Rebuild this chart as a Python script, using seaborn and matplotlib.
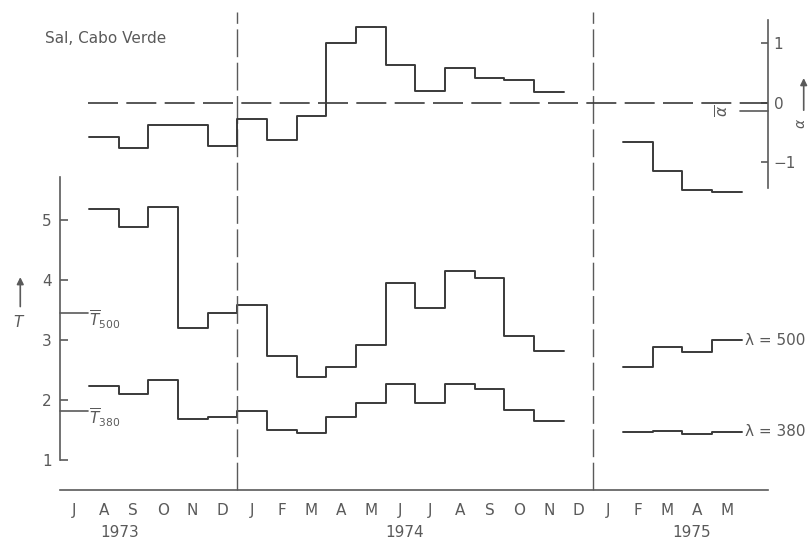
import matplotlib
matplotlib.use("Agg")
import matplotlib.pyplot as plt
import seaborn as sns

# month index: Jul 1973 = 0
months_7374 = list(range(1, 17))        # Aug 1973 .. Nov 1974
months_75 = [19, 20, 21, 22]            # Feb .. May 1975
month_labels = ["J", "A", "S", "O", "N", "D", "J", "F", "M", "A", "M", "J",
                "J", "A", "S", "O", "N", "D", "J", "F", "M", "A", "M"]
years = ["1973", "1974", "1975"]
year_pos = [1.55, 11.15, 20.8]

alpha_7374 = [-0.57, -0.76, -0.37, -0.37, -0.72, -0.27, -0.62, -0.22,
              1.01, 1.28, 0.64, 0.20, 0.59, 0.42, 0.39, 0.18]
alpha_75 = [-0.66, -1.14, -1.46, -1.50]
t500_7374 = [5.18, 4.88, 5.22, 3.20, 3.45, 3.58, 2.73, 2.38,
             2.55, 2.92, 3.95, 3.53, 4.15, 4.03, 3.07, 2.82]
t500_75 = [2.55, 2.88, 2.80, 3.00]
t380_7374 = [2.23, 2.10, 2.33, 1.68, 1.72, 1.82, 1.50, 1.45,
             1.72, 1.95, 2.27, 1.95, 2.27, 2.18, 1.83, 1.65]
t380_75 = [1.47, 1.48, 1.43, 1.47]
t500_mean = 3.45
t380_mean = 1.82
alpha_mean = -0.13

ink = "#3a3a3a"
grey = "#5a5a5a"


def steps(months, vals):
    xs = [m - 0.5 for m in months] + [months[-1] + 0.5]
    ys = list(vals) + [vals[-1]]
    return xs, ys


sns.set_theme(style="white")
plt.rcParams["font.family"] = ["DejaVu Sans"]

fig = plt.figure(figsize=(8.11, 5.38), dpi=100)
ax_t = fig.add_axes([0, 0, 1, 1])
ax_a = fig.add_axes([0, 0, 1, 1])
for ax in (ax_t, ax_a):
    ax.set_xlim(-2.494, 24.84)
    ax.patch.set_visible(False)
ax_t.set_ylim(-0.3, 8.667)
ax_a.set_ylim(-7.311, 1.731)

# step curves
for months, vals, ax in [(months_7374, alpha_7374, ax_a), (months_75, alpha_75, ax_a),
                         (months_7374, t500_7374, ax_t), (months_75, t500_75, ax_t),
                         (months_7374, t380_7374, ax_t), (months_75, t380_75, ax_t)]:
    xs, ys = steps(months, vals)
    sns.lineplot(x=xs, y=ys, ax=ax, drawstyle="steps-post", color=ink,
                 lw=1.4, estimator=None, sort=False)

# T axis (left)
for s in ["top", "right"]:
    ax_t.spines[s].set_visible(False)
ax_t.spines["left"].set_position(("data", -0.47))
ax_t.spines["left"].set_bounds(1, 5.72)
ax_t.spines["bottom"].set_position(("data", 0.5))
ax_t.spines["bottom"].set_bounds(-0.47, 23.4)
for s in ["left", "bottom"]:
    ax_t.spines[s].set_color(grey)
    ax_t.spines[s].set_linewidth(1.2)
ax_t.set_yticks([1, 2, 3, 4, 5])
ax_t.tick_params(axis="y", direction="in", length=6, width=1.2, color=grey,
                 labelsize=11, labelcolor=grey, pad=6, left=True)
ax_t.set_xticks(range(len(month_labels)))
ax_t.set_xticklabels(month_labels)
ax_t.tick_params(axis="x", length=0, labelsize=11, labelcolor=grey, pad=9)
ax_t.grid(False)

for yr, xp in zip(years, year_pos):
    ax_t.text(xp, -0.2, yr, ha="center", va="center", fontsize=11, color=grey)

ax_t.plot([-0.47, 0.47], [t500_mean, t500_mean], color=grey, lw=1.2)
ax_t.plot([-0.47, 0.47], [t380_mean, t380_mean], color=grey, lw=1.2)
ax_t.text(0.52, t500_mean - 0.12, r"$\overline{T}_{500}$", ha="left", va="center",
          fontsize=11, color=grey)
ax_t.text(0.52, t380_mean - 0.12, r"$\overline{T}_{380}$", ha="left", va="center",
          fontsize=11, color=grey)
ax_t.text(22.62, t500_75[-1], "λ = 500", ha="left", va="center",
          fontsize=11, color=grey)
ax_t.text(22.62, t380_75[-1], "λ = 380", ha="left", va="center",
          fontsize=11, color=grey)

# vertical year dividers
for xv in [5.5, 17.5]:
    ax_t.axvline(xv, ymin=0.089, ymax=0.978, color=grey, lw=1.0,
                 linestyle=(0, (20, 4)))

# alpha axis (right)
for s in ["top", "left", "bottom"]:
    ax_a.spines[s].set_visible(False)
ax_a.spines["right"].set_position(("data", 23.39))
ax_a.spines["right"].set_bounds(-1.43, 1.39)
ax_a.spines["right"].set_color(grey)
ax_a.spines["right"].set_linewidth(1.2)
ax_a.set_xticks([])
ax_a.yaxis.tick_right()
ax_a.set_yticks([-1, 0, 1])
ax_a.set_yticklabels(["\u22121", "0", "1"])
ax_a.tick_params(axis="y", direction="in", length=5, width=1.2, color=grey,
                 labelsize=11, labelcolor=grey, pad=4, right=True, left=False)
ax_a.grid(False)

ax_a.plot([0.47, 23.39], [0, 0], color=ink, lw=1.2, linestyle=(0, (18, 5)))
ax_a.plot([22.45, 23.39], [alpha_mean, alpha_mean], color=grey, lw=1.2)
ax_a.text(21.88, alpha_mean, r"$\overline{\alpha}$", rotation=90, ha="center",
          va="center", fontsize=11, color=grey)

# labels and arrows
fig.text(0.055, 0.929, "Sal, Cabo Verde", ha="left", va="center",
         fontsize=11, color=grey)
fig.text(0.022, 0.401, "T", ha="center", va="center", fontsize=11,
         color=grey, style="italic")
fig.add_artist(matplotlib.patches.FancyArrowPatch(
    (0.025, 0.425), (0.025, 0.49), transform=fig.transFigure,
    arrowstyle="-|>", mutation_scale=10, color=grey, lw=1.2))
fig.text(0.988, 0.77, r"$\alpha$", rotation=90, ha="center", va="center",
         fontsize=10, color=grey)
fig.add_artist(matplotlib.patches.FancyArrowPatch(
    (0.991, 0.79), (0.991, 0.86), transform=fig.transFigure,
    arrowstyle="-|>", mutation_scale=10, color=grey, lw=1.2))

fig.savefig("out.png", dpi=100)
